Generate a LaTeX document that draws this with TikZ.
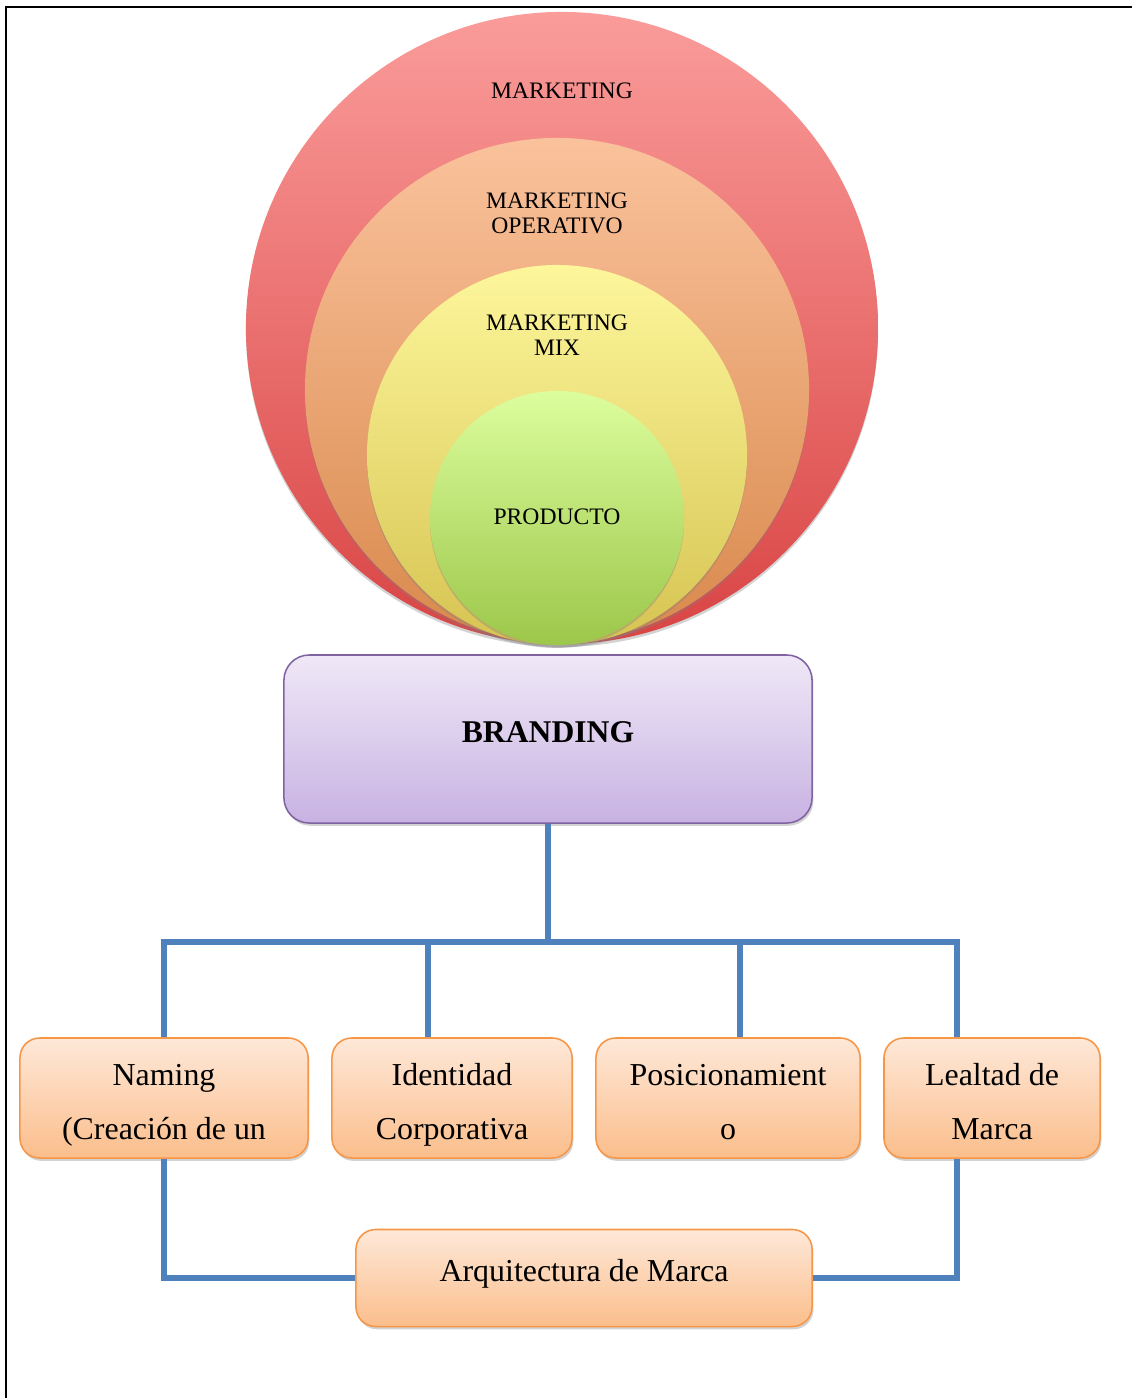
\documentclass[tikz,border=0pt]{standalone}
\usepackage{fontspec}
\setmainfont{Liberation Serif}
\usepackage{tikz}
\usetikzlibrary{shadows}

\definecolor{mkttop}{HTML}{FA9C9A}
\definecolor{mktbottom}{HTML}{D94444}
\definecolor{optop}{HTML}{FAC29C}
\definecolor{opbottom}{HTML}{D9894C}
\definecolor{mixtop}{HTML}{FDF69B}
\definecolor{mixbottom}{HTML}{D6C452}
\definecolor{prodtop}{HTML}{DCFD9D}
\definecolor{prodbottom}{HTML}{9CC74A}
\definecolor{brandtop}{HTML}{EFE8F7}
\definecolor{brandbottom}{HTML}{C8B2E2}
\definecolor{brandline}{HTML}{8064A2}
\definecolor{boxtop}{HTML}{FEE8D8}
\definecolor{boxbottom}{HTML}{FBBE8C}
\definecolor{boxline}{HTML}{F79646}
\definecolor{linkblue}{HTML}{4F81BD}

% two lines of box text, set a little low as in the original
\newcommand{\boxlines}[2]{\rule{0pt}{26.6pt}#1\\#2\rule[-6pt]{0pt}{6pt}}

\begin{document}
\begin{tikzpicture}[x=0.025cm,y=-0.025cm,
    circle node/.style={circle,draw=none,inner sep=0pt,
      drop shadow={opacity=0.35,shadow xshift=0pt,shadow yshift=-2pt}},
    circle text/.style={font=\fontsize{16.8}{17.6}\selectfont,align=center,inner sep=0pt},
    brand box/.style={rectangle,rounded corners=18pt,draw=brandline,line width=1.1pt,
      top color=brandtop,bottom color=brandbottom,minimum width=13.2cm,minimum height=4.2cm,
      font=\fontsize{22.5}{24}\selectfont\bfseries,
      drop shadow={opacity=0.35,shadow xshift=1pt,shadow yshift=-2pt}},
    main box/.style={rectangle,rounded corners=14pt,draw=boxline,line width=1.1pt,
      top color=boxtop,bottom color=boxbottom,minimum height=3cm,inner sep=0pt,
      font=\fontsize{22.7}{39}\selectfont,align=center,
      drop shadow={opacity=0.35,shadow xshift=1pt,shadow yshift=-2pt}},
    link/.style={draw=linkblue,line width=3.8pt}]

  \useasboundingbox (0,0) rectangle (1132,1398);
  % page frame
  \draw[line width=1.9pt] (6,1398) -- (6,7) -- (1132,7);

  % nested circles
  \node[circle node,minimum size=15.8cm,top color=mkttop,bottom color=mktbottom] (marketing) at (562,328) {};
  \node[circle node,minimum size=12.6cm,top color=optop,bottom color=opbottom] (operativo) at (557,390) {};
  \node[circle node,minimum size=9.5cm,top color=mixtop,bottom color=mixbottom] (mix) at (557,455) {};
  \node[circle node,minimum size=6.35cm,top color=prodtop,bottom color=prodbottom] (producto) at (557,518) {};

  \node[circle text] (t-marketing) at (562,91) {MARKETING};
  \node[circle text] (t-operativo) at (557,213) {MARKETING\\OPERATIVO};
  \node[circle text] (t-mix) at (557,335) {MARKETING\\MIX};
  \node[circle text] (t-producto) at (557,517) {PRODUCTO};

  % branding and its parts
  \node[brand box] (branding) at (548,739) {BRANDING\rule[-10pt]{0pt}{10pt}};

  \node[main box,minimum width=7.2cm] (naming) at (164,1098) {\boxlines{Naming}{(Creación de un}};
  \node[main box,minimum width=6cm] (identidad) at (452,1098) {\boxlines{Identidad}{Corporativa}};
  \node[main box,minimum width=6.6cm] (posicion) at (728,1098) {\boxlines{Posicionamient}{o}};
  \node[main box,minimum width=5.4cm] (lealtad) at (992,1098) {\boxlines{Lealtad de}{Marca}};
  \node[main box,minimum width=11.4cm,minimum height=2.425cm] (arquitectura) at (584,1278)
    {Arquitectura de Marca\rule[-10.5pt]{0pt}{10.5pt}};

  \coordinate (hub) at (548,942);
  \coordinate (bus1) at (164,942);
  \coordinate (bus2) at (428,942);
  \coordinate (bus3) at (740,942);
  \coordinate (bus4) at (957,942);

  \draw[link] (branding.south) -- (hub);
  \draw[link] (bus1 |- naming.north) -- (bus1) -- (bus4) -- (bus4 |- lealtad.north);
  \draw[link] (bus2) -- (bus2 |- identidad.north);
  \draw[link] (bus3) -- (bus3 |- posicion.north);
  \draw[link] (naming.south) |- (arquitectura.west);
  \draw[link] (bus4 |- lealtad.south) |- (arquitectura.east);

\end{tikzpicture}
\end{document}
